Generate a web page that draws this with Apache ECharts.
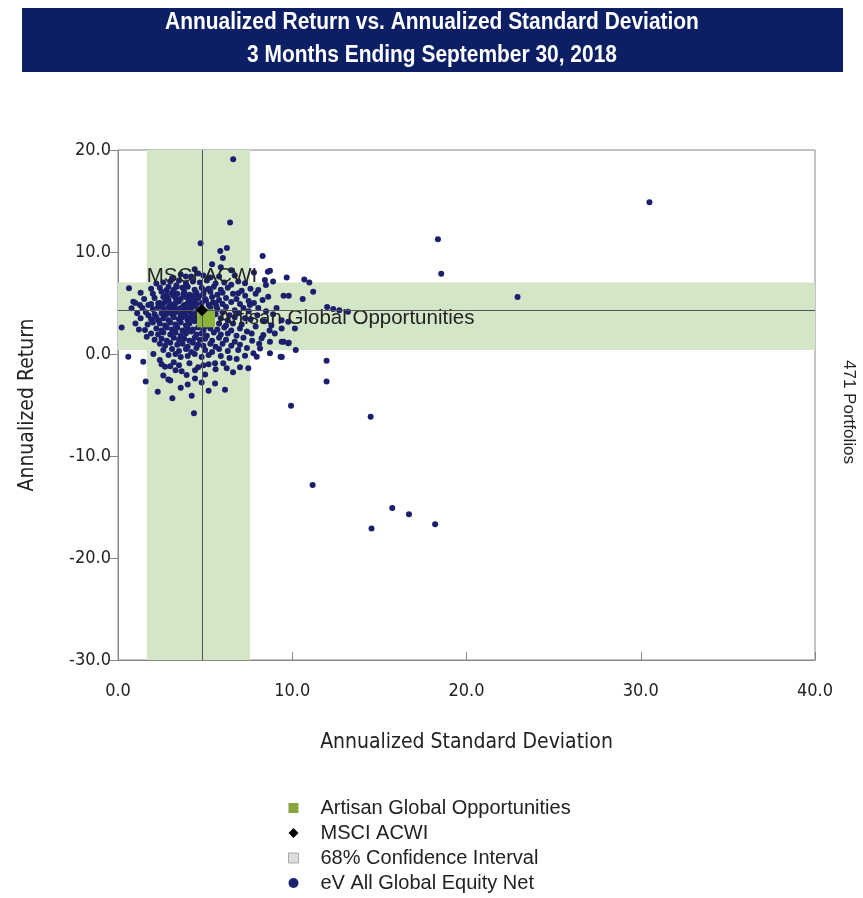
<!DOCTYPE html>
<html>
<head>
<meta charset="utf-8">
<script src="https://cdn.jsdelivr.net/npm/echarts@6/dist/echarts.min.js"></script>
<style>html,body{margin:0;padding:0;background:#fff}#c{width:863px;height:898px}</style>
</head>
<body>
<div id="c"></div>
<script>
const titleLines = ['Annualized Return vs. Annualized Standard Deviation', '3 Months Ending September 30, 2018'];
const xTicks = [0, 10, 20, 30, 40];
const yTicks = [-30, -20, -10, 0, 10, 20];
const seriesNames = ['Artisan Global Opportunities', 'MSCI ACWI', '68% Confidence Interval', 'eV All Global Equity Net'];
const artisan = [5.05, 3.5];
const msci = [4.82, 4.3];
const ciX = [1.66, 7.57];
const ciY = [0.4, 7.0];
const portfolioCount = 471;
const universe = [
[6.61,19.1],[6.43,12.9],[4.74,10.85],[5.87,10.1],[6.25,10.4],[6.02,9.4],[8.3,9.6],
[18.36,11.25],[18.55,7.87],[22.93,5.6],[30.5,14.87],
[11.97,-0.66],[11.97,-2.7],[9.93,-5.07],[14.5,-6.15],
[11.17,-12.84],[15.74,-15.1],[16.7,-15.7],[18.2,-16.7],[14.55,-17.1],
[9.68,7.5],[10.69,7.3],[10.98,7.0],[11.2,6.1],[9.5,5.7],[9.8,5.7],[10.6,5.4],[12.0,4.6],[12.35,4.4],[12.7,4.3],[13.2,4.15],[10.15,2.5],[9.5,1.2],[9.8,1.1],[10.2,0.4],[9.4,-0.3],
[8.72,8.17],[8.43,7.25],[8.49,6.76],[6.9,7.1],[7.29,6.93],[6.9,5.95],[8.05,6.27],[8.62,5.62],[7.57,4.8],[8.05,4.5],[9.1,4.5],[7.29,3.5],[8.0,3.8],[9.39,3.3],[9.77,3.17],[9.39,2.5],[8.34,1.86],[7.67,2.0],
[0.59,-0.26],[1.45,-0.75],[1.59,-2.7],[2.28,-3.7],[3.12,-4.35],[4.23,-4.1],[4.36,-5.8],[4.8,-2.8],[5.57,-2.9],[6.14,-3.5],[2.89,-2.5],[3.0,-2.6],[2.03,0.0],[2.4,-0.6],[2.7,-1.25],[3.0,-1.2],[3.65,-1.7],[3.94,-2.06],[4.42,-1.6],[4.42,-2.4],[4.9,-1.1],[5.57,-0.9],[6.04,-0.9],[6.24,-1.4],[7.0,-1.3],[7.48,-1.4],[6.81,-0.5],[7.29,-0.17],[7.77,0.07],[7.96,-0.26],[8.72,1.2],[8.72,0.07],[9.33,-0.26],[9.39,1.2],[9.77,1.05],[8.15,0.55],[8.24,1.54],
[0.63,6.44],[0.88,5.13],[1.26,4.8],[1.74,4.8],[2.31,4.97],[0.78,4.48],[0.21,2.6],[1.55,2.35],[1.65,1.7],[1.74,3.8],[2.31,3.3],[2.79,6.27],[3.37,6.6],
[8.6,8.07],[6.5,8.2],[6.7,7.7],[7.8,8.0],[8.9,7.1],[5.9,8.5],[5.4,8.8],[4.4,8.3],[3.9,7.6],[4.6,7.9],
[3.6,7.8],[4.2,7.6],[4.9,7.7],[5.3,7.5],[3.1,7.4],[5.8,7.6],
[2.6,7.0],[3.0,7.1],[3.5,7.2],[3.9,6.9],[4.3,7.1],[4.7,7.0],[5.1,7.2],[5.6,6.9],[6.1,7.0],[6.5,6.8],[2.2,6.9],
[1.9,6.4],[2.4,6.5],[2.9,6.6],[3.2,6.3],[3.7,6.5],[4.0,6.6],[4.4,6.3],[4.8,6.5],[5.2,6.4],[5.5,6.6],[5.9,6.3],[6.3,6.5],[7.6,6.4],[7.1,6.2],
[1.3,6.0],[2.0,5.9],[2.5,6.1],[2.8,5.8],[3.1,6.0],[3.4,5.9],[3.8,6.1],[4.1,5.8],[4.5,6.0],[4.9,5.9],[5.3,6.1],[5.7,5.8],[6.0,6.0],[6.6,5.9],[7.3,5.7],[7.9,5.9],
[1.5,5.4],[2.1,5.5],[2.6,5.6],[2.9,5.3],[3.3,5.5],[3.6,5.4],[3.9,5.6],[4.2,5.3],[4.6,5.5],[5.0,5.4],[5.4,5.6],[5.8,5.3],[6.2,5.5],[6.8,5.4],[7.5,5.2],[8.3,5.3],
[1.0,5.0],[1.9,4.9],[2.4,5.0],[2.7,5.1],[3.0,4.9],[3.3,5.0],[3.5,5.2],[3.8,4.8],[4.0,5.0],[4.3,5.1],[4.5,4.9],[4.8,5.0],[5.2,4.8],[5.6,5.0],[6.0,4.9],[6.5,5.1],[7.0,4.9],[7.8,5.0],
[1.4,4.5],[2.0,4.4],[2.3,4.6],[2.6,4.4],[2.9,4.6],[3.2,4.5],[3.4,4.3],[3.7,4.6],[3.9,4.4],[4.2,4.5],[4.4,4.7],[4.6,4.3],[5.3,4.5],[5.7,4.4],[6.2,4.6],[6.7,4.3],[7.2,4.5],[8.5,4.2],
[1.1,4.0],[1.6,4.1],[2.1,3.9],[2.5,4.0],[2.8,4.1],[3.1,3.9],[3.3,4.1],[3.6,3.8],[3.8,4.0],[4.1,4.2],[4.3,3.9],[4.5,4.1],[5.6,3.9],[6.0,4.1],[6.4,3.8],[6.9,4.0],[7.5,4.2],[8.9,3.9],
[1.3,3.5],[1.9,3.4],[2.2,3.6],[2.6,3.5],[2.9,3.3],[3.2,3.6],[3.5,3.4],[3.7,3.6],[4.0,3.3],[4.2,3.5],[4.5,3.7],[4.7,3.4],[5.9,3.5],[6.3,3.3],[6.7,3.6],[7.6,3.4],[8.4,3.2],
[1.0,3.0],[1.7,2.9],[2.0,3.1],[2.4,3.0],[2.7,2.8],[3.0,3.1],[3.3,2.9],[3.6,3.1],[3.9,2.8],[4.1,3.0],[4.4,3.2],[4.7,2.9],[5.0,2.7],[5.4,2.9],[5.8,3.0],[6.2,2.8],[6.6,3.0],[7.1,2.9],[7.9,2.7],[8.8,2.8],
[1.2,2.4],[2.2,2.5],[2.5,2.3],[2.8,2.6],[3.1,2.4],[3.4,2.6],[3.7,2.3],[4.0,2.5],[4.3,2.4],[4.6,2.6],[4.9,2.3],[5.3,2.5],[5.7,2.4],[6.1,2.6],[6.5,2.3],[7.0,2.5],[7.4,2.2],[8.7,2.3],
[1.9,2.0],[2.3,1.9],[2.6,2.1],[3.0,1.9],[3.3,2.1],[3.6,1.8],[3.9,2.0],[4.2,2.2],[4.5,1.9],[4.8,2.0],[5.1,1.8],[5.5,2.1],[5.9,1.9],[6.3,2.0],[6.8,1.8],[7.2,1.6],[9.0,2.0],
[2.1,1.4],[2.5,1.5],[2.8,1.3],[3.2,1.6],[3.5,1.4],[3.8,1.5],[4.1,1.3],[4.4,1.6],[4.7,1.4],[5.0,1.5],[5.4,1.3],[5.8,1.6],[6.2,1.4],[6.7,1.2],[7.7,1.3],[8.1,1.0],
[2.4,1.0],[2.7,0.8],[3.0,1.1],[3.4,0.9],[3.7,1.0],[4.0,0.7],[4.3,1.1],[4.6,0.9],[4.9,0.8],[5.3,1.0],[5.6,0.7],[6.0,1.0],[6.5,0.8],[7.0,0.9],[7.4,0.6],
[2.6,0.4],[3.1,0.5],[3.5,0.3],[3.9,0.5],[4.2,0.2],[4.5,0.6],[5.0,0.4],[5.4,0.2],[5.8,0.5],[6.3,0.3],[6.9,0.4],
[2.9,-0.1],[3.3,0.0],[3.6,-0.3],[4.0,-0.2],[4.4,0.0],[4.8,-0.3],[5.2,-0.1],[5.9,-0.2],[6.4,-0.4],
[2.5,-1.0],[3.2,-0.8],[3.5,-1.1],[4.1,-0.9],[4.6,-1.3],[5.2,-1.0],[5.6,-1.5],[6.6,-1.8],[3.3,-1.6],[5.0,-2.0],[4.0,-3.0],[3.6,-3.3],[5.2,-3.6],[2.6,-2.1],
[3.15,5.75],[3.45,5.15],[3.75,5.85],[4.05,5.45],[4.35,5.75],[3.25,4.75],[3.55,4.45],[3.85,4.25],[4.15,4.75],[4.45,5.35],[3.05,4.25],[2.85,5.45],[4.65,5.65],[4.95,6.25],[3.35,6.75],[3.65,3.95],[3.95,3.65],[4.25,3.85],[2.75,3.85],[2.55,4.75],[4.75,4.45],[5.05,5.25],[5.45,5.05],[5.35,3.45],[5.65,4.65]
];

const narrow = "'DejaVu Sans Condensed', 'Liberation Sans Narrow', sans-serif";
const regular = "'Liberation Sans', Arial, sans-serif";
const chart = echarts.init(document.getElementById('c'), null, {renderer: 'canvas'});
chart.setOption({
  animation: false,
  backgroundColor: '#fff',
  graphic: [
    {type: 'rect', left: 22, top: 8, shape: {width: 821, height: 64}, style: {fill: '#0c1f64'}},
    {type: 'text', x: 432, y: 23, scaleX: 0.91, style: {text: titleLines[0], fill: '#fff', font: 'bold 23px ' + regular, align: 'center', verticalAlign: 'middle'}},
    {type: 'text', x: 432, y: 56, scaleX: 0.91, style: {text: titleLines[1], fill: '#fff', font: 'bold 23px ' + regular, align: 'center', verticalAlign: 'middle'}},
    {type: 'text', x: 849, y: 412, rotation: -Math.PI / 2, style: {text: portfolioCount + ' Portfolios', fill: '#222', font: '17px ' + regular, align: 'center', verticalAlign: 'middle'}}
  ],
  grid: {left: 118, top: 150, right: 48, bottom: 238, show: true, borderColor: '#888', borderWidth: 1, backgroundColor: 'transparent'},
  legend: {
    orient: 'vertical', left: 288, top: 798, padding: 0, itemWidth: 10, itemHeight: 10, itemGap: 5,
    textStyle: {fontFamily: regular, fontSize: 20, lineHeight: 20, color: '#222', padding: [0, 0, 0, 17]},
    selectedMode: false,
    data: [
      {name: seriesNames[0], icon: 'rect', itemStyle: {color: '#87a63c'}},
      {name: seriesNames[1], icon: 'diamond', itemStyle: {color: '#000'}},
      {name: seriesNames[2], icon: 'rect', itemStyle: {color: '#d6d6d6', borderColor: '#999', borderWidth: 1}},
      {name: seriesNames[3], icon: 'circle', itemStyle: {color: '#1b2370'}}
    ]
  },
  xAxis: {
    type: 'value', min: xTicks[0], max: xTicks[xTicks.length - 1], interval: 10,
    name: 'Annualized Standard Deviation', nameLocation: 'middle', nameGap: 72,
    nameTextStyle: {fontFamily: narrow, fontSize: 21, color: '#222'},
    axisLine: {onZero: false, lineStyle: {color: '#888'}},
    axisTick: {inside: true, length: 8, lineStyle: {color: '#888'}},
    axisLabel: {fontFamily: narrow, fontSize: 18, color: '#222', margin: 22, formatter: v => v.toFixed(1)},
    splitLine: {show: false}
  },
  yAxis: {
    type: 'value', min: yTicks[0], max: yTicks[yTicks.length - 1], interval: 10,
    name: 'Annualized Return', nameLocation: 'middle', nameGap: 80,
    nameTextStyle: {fontFamily: narrow, fontSize: 21, color: '#222'},
    axisLine: {show: true, onZero: false, lineStyle: {color: '#888'}},
    axisTick: {show: true, inside: false, length: 8, lineStyle: {color: '#888'}},
    axisLabel: {fontFamily: narrow, fontSize: 18, color: '#222', margin: 7, formatter: v => v.toFixed(1)},
    splitLine: {show: false}
  },
  series: [
    {
      name: seriesNames[2], type: 'scatter', data: [], z: 1,
      itemStyle: {color: '#d6d6d6'},
      markArea: {
        silent: true,
        itemStyle: {color: '#d3e6c8'},
        data: [
          [{xAxis: ciX[0], yAxis: yTicks[0]}, {xAxis: ciX[1], yAxis: yTicks[yTicks.length - 1]}],
          [{xAxis: xTicks[0], yAxis: ciY[0]}, {xAxis: xTicks[xTicks.length - 1], yAxis: ciY[1]}]
        ]
      },
      markLine: {
        silent: true, symbol: 'none', label: {show: false},
        lineStyle: {color: '#555', width: 1, type: 'solid'},
        data: [{xAxis: msci[0]}, {yAxis: msci[1]}]
      }
    },
    {
      name: seriesNames[3], type: 'scatter', symbol: 'circle', symbolSize: 6, z: 3,
      itemStyle: {color: '#1b1f6e', opacity: 1},
      data: universe
    },
    {
      name: seriesNames[0], type: 'scatter', symbol: 'rect', symbolSize: 18, z: 4,
      itemStyle: {color: '#8cb43c', opacity: 1},
      label: {show: true, position: 'right', distance: 3, formatter: seriesNames[0], fontFamily: regular, fontSize: 20.5, color: '#222'},
      data: [artisan]
    },
    {
      name: seriesNames[1], type: 'scatter', symbol: 'diamond', symbolSize: 12, z: 5,
      itemStyle: {color: '#000', opacity: 1},
      label: {show: true, position: 'top', distance: 17, formatter: seriesNames[1], fontFamily: regular, fontSize: 20.5, color: '#222'},
      data: [msci]
    }
  ]
});
</script>
</body>
</html>
